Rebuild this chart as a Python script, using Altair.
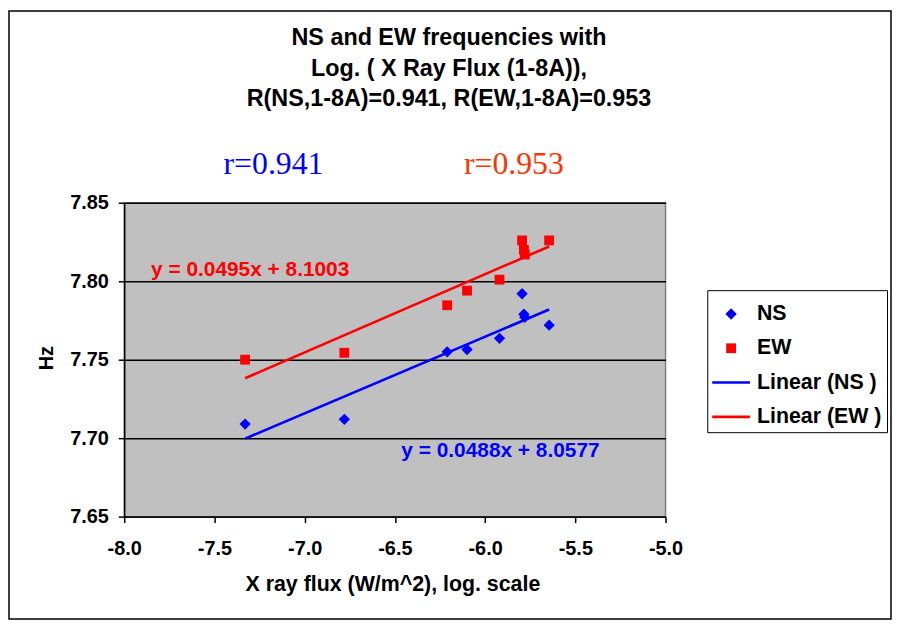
import altair as alt
import pandas as pd

# ---------------- data ----------------
log_flux = [-7.33, -6.78, -6.21, -6.10, -5.92, -5.795, -5.785, -5.78, -5.645]
ns_hz = [7.709, 7.712, 7.755, 7.7565, 7.7636, 7.792, 7.779, 7.777, 7.772]
ew_hz = [7.750, 7.7544, 7.7847, 7.794, 7.801, 7.826, 7.820, 7.817, 7.826]

series_names = ["NS", "EW", "Linear (NS )", "Linear (EW )"]
series_colors = ["#0000FF", "#FF0000", "#0000FF", "#FF0000"]

x_ticks = [-8.0, -7.5, -7.0, -6.5, -6.0, -5.5, -5.0]
y_ticks = [7.65, 7.70, 7.75, 7.80, 7.85]

title_lines = ["NS and EW frequencies with",
               "Log. ( X Ray Flux (1-8A)),",
               "R(NS,1-8A)=0.941, R(EW,1-8A)=0.953"]
r_ns_text = ["r=0.941"]
r_ew_text = ["r=0.953"]

eq_ns = {"flux": [-6.464], "hz": [7.6921], "t": ["y = 0.0488x + 8.0577"]}
eq_ew = {"flux": [-7.851], "hz": [7.8073], "t": ["y = 0.0495x + 8.1003"]}

# ---------------- styles ----------------
DIAMOND = "M0,-0.3L0.3,0L0,0.3L-0.3,0Z"
SQUARE = "M-0.26,-0.26L0.26,-0.26L0.26,0.26L-0.26,0.26Z"
LINE = "M-1,-0.07L1,-0.07L1,0.07L-1,0.07Z"
series_shapes = [DIAMOND, SQUARE, LINE, LINE]
FONT = "Liberation Sans"
MINUS_FIX = "replace(datum.label, '\u2212', '-')"

df = pd.DataFrame({
    "flux": log_flux + log_flux,
    "hz": ns_hz + ew_hz,
    "series": ["NS"] * len(ns_hz) + ["EW"] * len(ew_hz),
})

color_scale = alt.Scale(domain=series_names, range=series_colors)
shape_scale = alt.Scale(domain=series_names, range=series_shapes)

xenc = alt.X("flux:Q",
             scale=alt.Scale(domain=[-8, -5], nice=False, zero=False),
             axis=alt.Axis(values=x_ticks, format=".1f", labelExpr=MINUS_FIX,
                           title="X ray flux (W/m^2), log. scale",
                           grid=False, labelFlush=False, labelOverlap=False,
                           labelBaseline="alphabetic", labelPadding=32,
                           titleX=270, titleY=74, titleBaseline="alphabetic",
                           titleAlign="center", titleFontSize=21.5))
yenc = alt.Y("hz:Q",
             scale=alt.Scale(domain=[7.65, 7.85], nice=False, zero=False),
             axis=alt.Axis(values=y_ticks, format=".2f", title="Hz",
                           grid=True, labelOverlap=False, labelPadding=10,
                           labelBaseline="middle",
                           titleX=-72, titleY=156, titleAngle=270,
                           titleBaseline="alphabetic", titleAlign="center"))

legend = alt.Legend(title=None, orient="none", legendX=587, legendY=88,
                    strokeColor="black", fillColor="white", padding=5,
                    labelFont=FONT, labelFontSize=21.5, labelFontWeight="bold",
                    labelColor="black", labelOffset=7, rowPadding=4.5,
                    symbolSize=1444, symbolStrokeWidth=0, symbolOpacity=1)

points = alt.Chart(df).mark_point(filled=True, size=1444, opacity=1,
                                  strokeWidth=0).encode(
    x=xenc, y=yenc,
    color=alt.Color("series:N", scale=color_scale, legend=legend),
    shape=alt.Shape("series:N", scale=shape_scale, legend=legend),
)

lines = alt.Chart(df).transform_regression(
    "flux", "hz", groupby=["series"]
).transform_calculate(
    series="'Linear (' + datum.series + ' )'"
).mark_line(strokeWidth=2.6).encode(
    x=xenc, y=yenc,
    color=alt.Color("series:N", scale=color_scale, legend=None),
)

eq_ns_text = alt.Chart(pd.DataFrame(eq_ns)).mark_text(
    align="left", baseline="middle", font=FONT, fontSize=21,
    fontWeight="bold", color="#0000FF"
).encode(x=xenc, y=yenc, text="t:N")

eq_ew_text = alt.Chart(pd.DataFrame(eq_ew)).mark_text(
    align="left", baseline="middle", font=FONT, fontSize=21,
    fontWeight="bold", color="#FF0000"
).encode(x=xenc, y=yenc, text="t:N")

title_mark = alt.Chart(pd.DataFrame({"t": ["\n".join(title_lines)]})).mark_text(
    align="center", baseline="alphabetic", font=FONT, fontSize=23.5,
    fontWeight="bold", color="black", lineBreak="\n", lineHeight=31
).encode(x=alt.value(327), y=alt.value(-159), text="t:N")

r_ns = alt.Chart(pd.DataFrame({"t": r_ns_text})).mark_text(
    align="left", baseline="alphabetic", font="Liberation Serif",
    fontSize=32, color="#0000FF"
).encode(x=alt.value(100), y=alt.value(-29), text="t:N")

r_ew = alt.Chart(pd.DataFrame({"t": r_ew_text})).mark_text(
    align="left", baseline="alphabetic", font="Liberation Serif",
    fontSize=32, color="#FF3300"
).encode(x=alt.value(342), y=alt.value(-29), text="t:N")

frame = alt.Chart(pd.DataFrame({"t": [""]})).mark_rect(
    fillOpacity=0, stroke="black", strokeWidth=1.5
).encode(x=alt.value(-116), x2=alt.value(772),
         y=alt.value(-193), y2=alt.value(419))

chart = alt.layer(
    frame, lines, points, eq_ew_text, eq_ns_text, title_mark, r_ns, r_ew
).resolve_legend(
    color="independent", shape="independent"
).properties(
    width=545, height=316,
    autosize=alt.AutoSizeParams(type="none"),
    padding={"left": 117, "top": 194, "right": 228, "bottom": 104},
    background="white",
).configure_view(
    fill="#C0C0C0", stroke="#808080", strokeWidth=1.5
).configure_axis(
    labelFont=FONT, labelFontSize=20, labelFontWeight="bold",
    labelColor="black", titleFont=FONT, titleFontSize=20,
    titleFontWeight="bold", titleColor="black",
    domainColor="black", domainWidth=1.5, tickColor="black",
    tickWidth=1.5, tickSize=6, gridColor="black", gridWidth=1.5,
    gridOpacity=1,
)

chart.save("out.html", embed_options={"renderer": "svg", "actions": False})
